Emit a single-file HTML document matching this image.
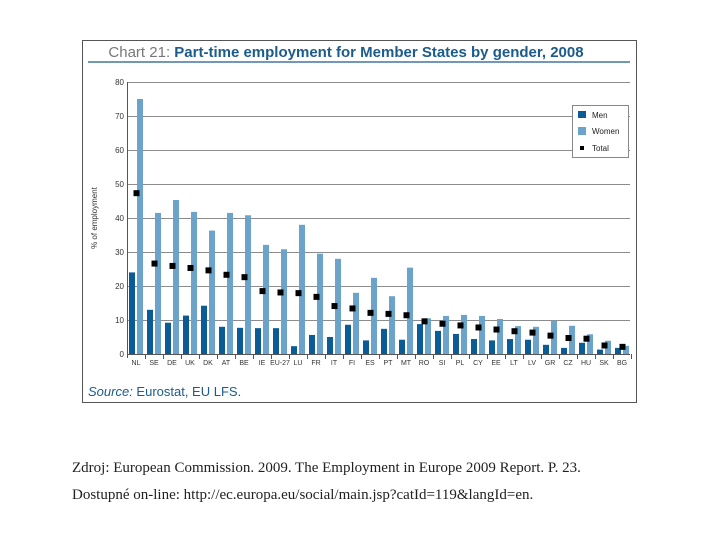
<!DOCTYPE html>
<html><head><meta charset="utf-8"><style>
body{margin:0;background:#fff;width:720px;height:540px;overflow:hidden;position:relative;font-family:"Liberation Sans",sans-serif}
.note{position:absolute;left:72px;font-family:"Liberation Serif",serif;font-size:15px;color:#222}
</style></head><body>
<svg width="720" height="540" style="position:absolute;left:0;top:0">
<rect x="82.5" y="40.5" width="554" height="362" fill="#fff" stroke="#555"/>
<text x="346" y="57" text-anchor="middle" font-size="15" fill="#1b5c8a" font-weight="bold"><tspan fill="#777" font-weight="normal">Chart 21:</tspan> Part-time employment for Member States by gender, 2008</text>
<line x1="88" y1="62" x2="630" y2="62" stroke="#1b5c8a" stroke-width="1.2"/>
<g id="grid"></g><g id="bars"></g>
<text transform="translate(97,218) rotate(-90)" text-anchor="middle" font-size="8" fill="#333">% of employment</text>
<g>
<rect x="572.5" y="105.5" width="56" height="52" fill="#fff" stroke="#888"/>
<rect x="578" y="111" width="8" height="7" fill="#0a5b96"/><text x="592" y="118" font-size="8" fill="#222">Men</text>
<rect x="578" y="127" width="8" height="8" fill="#6ba3cb"/><text x="592" y="134" font-size="8" fill="#222">Women</text>
<rect x="580" y="146" width="4" height="4" fill="#000"/><text x="592" y="151" font-size="8" fill="#222">Total</text>
</g>
<text x="88" y="396" font-size="13" fill="#1b5c8a" font-style="italic">Source: <tspan font-style="normal">Eurostat, EU LFS.</tspan></text>
</svg>
<div class="note" style="top:460px">Zdroj: European Commission. 2009. The Employment in Europe 2009 Report. P. 23.</div>
<div class="note" style="top:487px">Dostupné on-line: http://ec.europa.eu/social/main.jsp?catId=119&amp;langId=en.</div>
<script>
const categories=["NL","SE","DE","UK","DK","AT","BE","IE","EU-27","LU","FR","IT","FI","ES","PT","MT","RO","SI","PL","CY","EE","LT","LV","GR","CZ","HU","SK","BG"];
const men=[24,13,9.2,11.3,14.2,8,7.7,7.6,7.6,2.3,5.6,5,8.6,4,7.4,4.2,8.8,6.8,5.9,4.4,4,4.4,4.2,2.7,1.8,3.3,1.3,1.8];
const women=[75,41.5,45.3,41.8,36.3,41.5,40.8,32.1,30.8,38,29.5,28,18,22.4,17,25.4,10.5,11.2,11.5,11.2,10.3,8.2,8,9.8,8.3,5.8,3.9,2.4];
const total=[47.3,26.6,25.9,25.3,24.6,23.3,22.6,18.5,18.1,17.9,16.8,14.1,13.4,12.1,11.8,11.4,9.6,8.9,8.4,7.8,7.2,6.7,6.3,5.4,4.7,4.5,2.5,2.1];
const yTicks=[0,10,20,30,40,50,60,70,80];
const NS="http://www.w3.org/2000/svg";
const x0=127,step=18,yb=354,ppu=3.4,x1=630;
const y=v=>yb-v*ppu, x=i=>x0+i*step;
function mk(t,a,p){const e=document.createElementNS(NS,t);for(const k in a)e.setAttribute(k,a[k]);p.appendChild(e);return e;}
const g=document.getElementById('grid'),b=document.getElementById('bars');
yTicks.forEach(v=>{const l=mk('line',{x1:x0,x2:x1,y1:y(v)+.5,y2:y(v)+.5,stroke:v==0?'#555':'#666','stroke-width':v==0?1:0.8},g);


const t=mk('text',{x:x0-3,y:y(v)+3,'text-anchor':'end','font-size':8,fill:'#333'},g);t.textContent=v;

});
mk('line',{x1:x0+.5,x2:x0+.5,y1:y(80),y2:yb+4,stroke:'#555'},g);
categories.forEach((c,i)=>{
const r1=mk('rect',{x:x(i)+2,y:y(men[i]),width:6,height:men[i]*ppu,fill:'#0a5b96'},b);


const r2=mk('rect',{x:x(i)+10,y:y(women[i]),width:6,height:women[i]*ppu,fill:'#6ba3cb'},b);


const m=mk('rect',{x:x(i)+6.5,y:y(total[i])-3,width:6,height:6,fill:'#000'},b);


mk('line',{x1:x(i)+18.5,x2:x(i)+18.5,y1:yb,y2:yb+5,stroke:'#555'},b);
const t=mk('text',{x:x(i)+9,y:yb+11,'text-anchor':'middle','font-size':7,fill:'#333'},b);t.textContent=c;


});
</script>
</body></html>
